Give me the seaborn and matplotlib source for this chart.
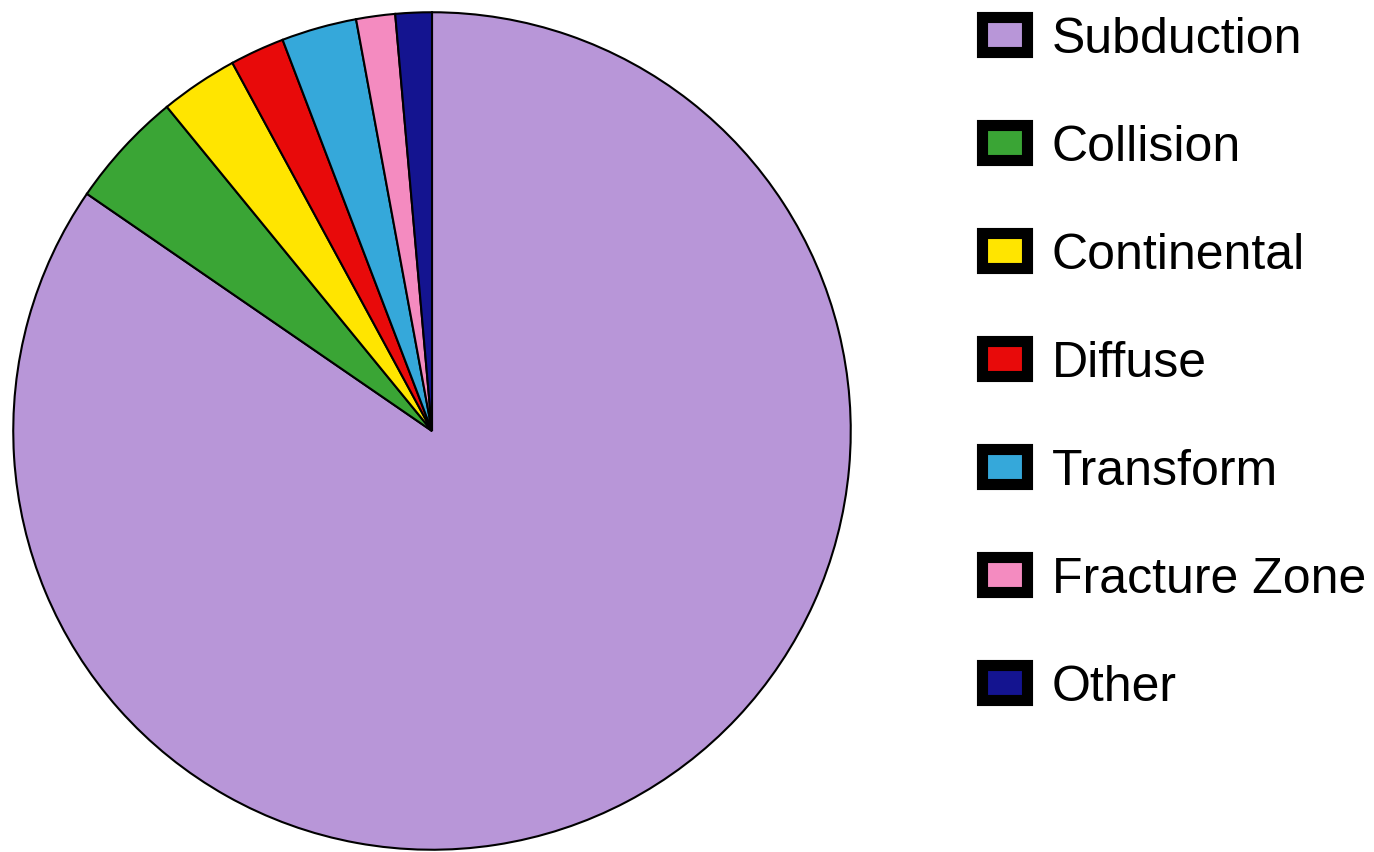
import matplotlib
matplotlib.use("Agg")
import matplotlib.pyplot as plt
import seaborn as sns
from matplotlib.patches import Patch

categories = ["Subduction", "Collision", "Continental", "Diffuse", "Transform", "Fracture Zone", "Other"]
values = [84.5, 4.5, 3.0, 2.1, 2.9, 1.5, 1.4]
colors = ["#B896D8", "#3AA535", "#FFE500", "#E80A0A", "#35A8DA", "#F48BC0", "#141490"]

sns.set_theme(style="white")
plt.rcParams['font.family'] = ['Liberation Sans', 'DejaVu Sans']

fig = plt.figure(figsize=(13.74, 8.53), dpi=100)
W, H = 1374, 853
ax = fig.add_axes([12 / W, (853 - 852) / H, 840 / W, 840 / H])
ax.pie(values, colors=colors, startangle=90, counterclock=False, radius=1.0,
       wedgeprops=dict(edgecolor="black", linewidth=1.5))
ax.set_xlim(-1.003, 1.003)
ax.set_ylim(-1.003, 1.003)
ax.set_aspect("equal")
ax.axis("off")

handles = [Patch(facecolor=c, edgecolor="black", linewidth=8, joinstyle="round") for c in colors]
fig.legend(handles, categories, loc="upper left", bbox_to_anchor=(982 / W, 1 - 17 / H),
           frameon=False, fontsize=36, borderpad=0, borderaxespad=0, labelcolor="black",
           handlelength=0.9, handleheight=0.72, handletextpad=0.5, labelspacing=1.24)

fig.savefig("out.png", dpi=100, facecolor="white")
